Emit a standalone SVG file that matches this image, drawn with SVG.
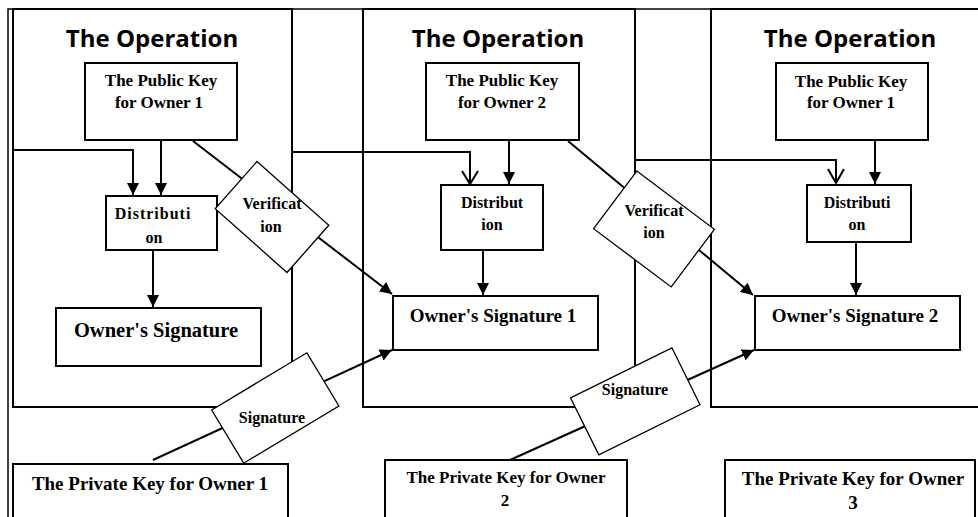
<svg xmlns="http://www.w3.org/2000/svg" width="978" height="517" viewBox="0 0 978 517">
<defs>
<style>
.frame{fill:none;stroke:#000;stroke-width:2}
.thin{fill:none;stroke:#000;stroke-width:1.5}
.box{fill:#fff;stroke:#000;stroke-width:2}
.shape{fill:#fff;stroke:#000;stroke-width:1.3}
.line{fill:none;stroke:#000;stroke-width:2}
.title{font-family:"Open Sans","Liberation Sans",sans-serif;font-weight:bold;font-size:24px;text-anchor:middle;fill:#000}
.t{font-family:"Liberation Serif","Times New Roman",serif;font-weight:bold;font-size:16px;text-anchor:middle;fill:#000}
.pk{font-size:17px}
.tb{font-family:"Liberation Serif","Times New Roman",serif;font-weight:bold;font-size:19px;text-anchor:middle;fill:#000}
</style>
<marker id="arr" markerUnits="userSpaceOnUse" markerWidth="13" markerHeight="12" refX="12" refY="6" orient="auto">
<path d="M0,0 L12,6 L0,12 z" fill="#000"/>
</marker>
</defs>
<rect width="978" height="517" fill="#fff"/>
<g id="frame">
<path class="thin" d="M8,517 V9 H978"/>
<path class="frame" d="M13,9 H292 V407 H13 Z"/>
<path class="frame" d="M363,9 H635 V407 H363 Z"/>
<path class="frame" d="M978,9 H711 V407 H978"/>
<text class="title" x="152" y="47">The Operation</text>
<text class="title" x="498" y="47">The Operation</text>
<text class="title" x="850" y="47">The Operation</text>
</g>
<g id="connectors">
<path class="line" d="M13,150 H133 V195" marker-end="url(#arr)"/>
<path class="line" d="M161,141 V195" marker-end="url(#arr)"/>
<path class="line" d="M153,251 V307" marker-end="url(#arr)"/>
<path class="line" d="M193,141 L392,294" marker-end="url(#arr)"/>
<path class="line" d="M153,460 L392,350" marker-end="url(#arr)"/>
<path class="line" d="M292,152 H470 V184"/>
<path class="line" d="M462,171 L470,184 L478,171"/>
<path class="line" d="M509,141 V184" marker-end="url(#arr)"/>
<path class="line" d="M483,251 V295" marker-end="url(#arr)"/>
<path class="line" d="M568,141 L753,295" marker-end="url(#arr)"/>
<path class="line" d="M510,460 L754,350" marker-end="url(#arr)"/>
<path class="line" d="M635,160 H836 V183"/>
<path class="line" d="M828,169 L836,183 L844,169"/>
<path class="line" d="M875,141 V184" marker-end="url(#arr)"/>
<path class="line" d="M856,243 V295" marker-end="url(#arr)"/>
</g>
<g id="pubkey1">
<rect class="box" x="85" y="63" width="152" height="77"/>
<text class="t pk" x="161" y="86">The Public Key</text>
<text class="t pk" x="159" y="108">for Owner 1</text>
</g>
<g id="dist1">
<rect class="box" x="106" y="196" width="111" height="54"/>
<text class="t" x="153" y="219" style="letter-spacing:1px">Distributi</text>
<text class="t" x="154" y="243">on</text>
</g>
<g id="ownersig0">
<rect class="box" x="56" y="308" width="205" height="58"/>
<text class="tb" x="156" y="337" style="font-size:20.5px">Owner's Signature</text>
</g>
<g id="verif1">
<polygon class="shape" points="257,161.5 328.8,225.3 287,272.5 215.2,208.7"/>
<text class="t" x="272" y="209">Verificat</text>
<text class="t" x="271" y="232">ion</text>
</g>
<g id="sig1">
<polygon class="shape" points="211.7,410 306.9,352.8 338.9,406 243.7,463.2"/>
<text class="t" x="272" y="423">Signature</text>
</g>
<g id="privkey1">
<rect class="box" x="13" y="464" width="275" height="60"/>
<text class="tb" x="150" y="490">The Private Key for Owner 1</text>
</g>
<g id="pubkey2">
<rect class="box" x="426" y="63" width="153" height="77"/>
<text class="t pk" x="502" y="86">The Public Key</text>
<text class="t pk" x="502" y="108">for Owner 2</text>
</g>
<g id="dist2">
<rect class="box" x="441" y="185" width="102" height="65"/>
<text class="t" x="492" y="208">Distribut</text>
<text class="t" x="492" y="230">ion</text>
</g>
<g id="ownersig1">
<rect class="box" x="393" y="296" width="205" height="54"/>
<text class="tb" x="493" y="322">Owner's Signature 1</text>
</g>
<g id="verif2">
<polygon class="shape" points="636.8,171.1 714.4,229.3 671.2,286.9 593.6,228.7"/>
<text class="t" x="654" y="216">Verificat</text>
<text class="t" x="654" y="238">ion</text>
</g>
<g id="sig2">
<polygon class="shape" points="570.5,397.8 671.9,347.8 700,404.8 598.8,454.8"/>
<text class="t" x="635" y="395">Signature</text>
</g>
<g id="privkey2">
<rect class="box" x="385" y="460" width="242" height="64"/>
<text class="t" x="506" y="483" style="font-size:17px">The Private Key for Owner</text>
<text class="t" x="505" y="506" style="font-size:17px">2</text>
</g>
<g id="pubkey3">
<rect class="box" x="776" y="63" width="152" height="77"/>
<text class="t pk" x="851" y="87">The Public Key</text>
<text class="t pk" x="851" y="108">for Owner 1</text>
</g>
<g id="dist3">
<rect class="box" x="807" y="185" width="104" height="57"/>
<text class="t" x="857" y="208">Distributi</text>
<text class="t" x="857" y="230">on</text>
</g>
<g id="ownersig2">
<rect class="box" x="755" y="296" width="205" height="54"/>
<text class="tb" x="855" y="322">Owner's Signature 2</text>
</g>
<g id="privkey3">
<rect class="box" x="725" y="460" width="250" height="64"/>
<text class="tb" x="853" y="485">The Private Key for Owner</text>
<text class="tb" x="853" y="509">3</text>
</g>
</svg>
